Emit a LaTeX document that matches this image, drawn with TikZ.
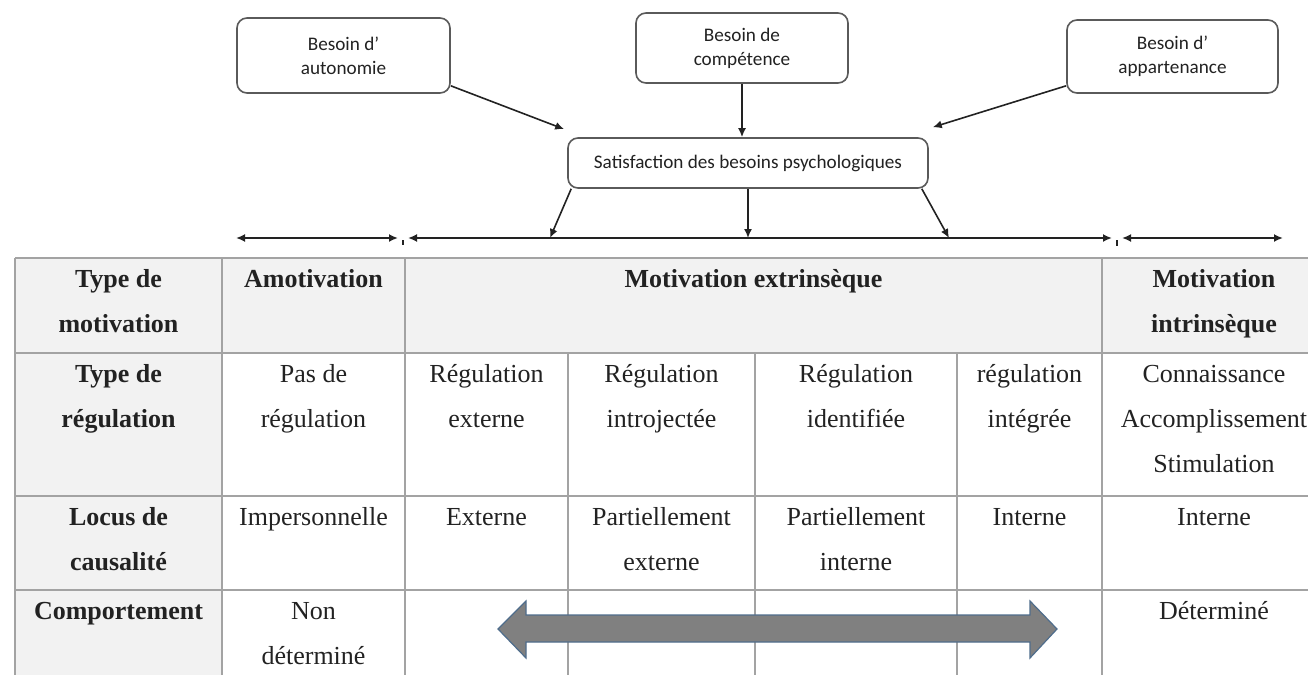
\documentclass[tikz,border=0pt]{standalone}
\usepackage{fontspec}
\setmainfont{Liberation Serif}
\newfontfamily\boxfont{Carlito}
\usetikzlibrary{arrows.meta}
\definecolor{gridgray}{HTML}{A3A3A3}
\definecolor{cellgray}{HTML}{F2F2F2}
\definecolor{boxline}{HTML}{5A5A5A}
\definecolor{ink}{HTML}{222222}
\definecolor{bigfill}{HTML}{808080}
\definecolor{bigedge}{HTML}{4F6D8C}

\begin{document}
\begin{tikzpicture}[x=0.5pt,y=-0.5pt,
  need/.style={draw=boxline, line width=0.8pt, rounded corners=5pt, fill=white,
    font=\boxfont\fontsize{9.6}{12}\selectfont, text=ink, align=center, inner sep=0pt},
  flow/.style={draw=ink, line width=0.8pt, -{Latex[length=4.5pt,width=4pt]}},
  span/.style={draw=ink, line width=1pt, {Latex[length=4.5pt,width=4pt]}-{Latex[length=4.5pt,width=4pt]}},
  cell/.style={anchor=north, inner sep=0pt, align=center,
    font=\fontsize{13}{22.5}\selectfont, text=ink},
  head/.style={cell, font=\bfseries\fontsize{13}{22.5}\selectfont},
  gridline/.style={draw=gridgray, line width=1.1pt}
]
\useasboundingbox (0,0) rectangle (1308,675);
\clip (0,0) rectangle (1308,675);

% --- the three needs and their satisfaction ---
\node[need, minimum width=106.5pt, minimum height=37.5pt] (auto) at (343.5,55.5) {Besoin d’\\autonomie};
\node[need, minimum width=106pt, minimum height=35pt] (comp) at (742,48) {Besoin de\\compétence};
\node[need, minimum width=105.5pt, minimum height=36.5pt] (appa) at (1172.5,56.5) {Besoin d’\\appartenance};
\node[need, minimum width=180pt, minimum height=25pt] (sat) at (748,163) {Satisfaction des besoins psychologiques};

\draw[flow] ([yshift=4pt]auto.south east) -- ([xshift=-1.5pt,yshift=4pt]sat.north west);
\draw[flow] (comp.south) -- (comp.south |- sat.north);
\draw[flow] ([yshift=4pt]appa.south west) -- ([xshift=2pt,yshift=5pt]sat.north east);

% --- continuum above the table ---
\coordinate (a1) at (236,238);
\coordinate (a2) at (398,238);
\coordinate (e1) at (408,238);
\coordinate (e2) at (1112,238);
\coordinate (i1) at (1122,238);
\coordinate (i2) at (1283,238);
\coordinate (dl) at (550,238);
\coordinate (dm) at (748,238);
\coordinate (dr) at (949,238);

\draw[span] (a1) -- (a2);
\draw[span] (e1) -- (e2);
\draw[span] (i1) -- (i2);
\draw[ink, line width=0.6pt] (403,240) -- (403,245);
\draw[ink, line width=0.6pt] (1117,240) -- (1117,246);

\draw[flow] ([xshift=2pt]sat.south west) -- (dl);
\draw[flow] (sat.south) -- (dm);
\draw[flow] ([xshift=-3.5pt]sat.south east) -- (dr);

% --- table ---
\fill[cellgray] (15,258) rectangle (1326,353);
\fill[cellgray] (15,353) rectangle (222,690);
\foreach \y in {258,353,496,590} \draw[gridline] (15,\y) -- (1326,\y);
\foreach \x in {15,222,405,1102,1326} \draw[gridline] (\x,258) -- (\x,690);
\foreach \x in {568,755,957} \draw[gridline] (\x,353) -- (\x,690);

% row 1
\node[head] (r1c1) at (118.5,255.5) {\strut Type de\\motivation};
\node[head] (r1c2) at (313.5,255.5) {\strut Amotivation};
\node[head] (r1c3) at (753.5,255.5) {\strut Motivation extrinsèque};
\node[head] (r1c7) at (1214,255.5) {\strut Motivation\\intrinsèque};
% row 2
\node[head] (r2c1) at (118.5,350.5) {\strut Type de\\régulation};
\node[cell] (r2c2) at (313.5,350.5) {\strut Pas de\\régulation};
\node[cell] (r2c3) at (486.5,350.5) {\strut Régulation\\externe};
\node[cell] (r2c4) at (661.5,350.5) {\strut Régulation\\introjectée};
\node[cell] (r2c5) at (856,350.5) {\strut Régulation\\identifiée};
\node[cell] (r2c6) at (1029.5,350.5) {\strut régulation\\intégrée};
\node[cell] (r2c7) at (1214,350.5) {\strut Connaissance\\Accomplissement\\Stimulation};
% row 3
\node[head] (r3c1) at (118.5,493.5) {\strut Locus de\\causalité};
\node[cell] (r3c2) at (313.5,493.5) {\strut Impersonnelle};
\node[cell] (r3c3) at (486.5,493.5) {\strut Externe};
\node[cell] (r3c4) at (661.5,493.5) {\strut Partiellement\\externe};
\node[cell] (r3c5) at (856,493.5) {\strut Partiellement\\interne};
\node[cell] (r3c6) at (1029.5,493.5) {\strut Interne};
\node[cell] (r3c7) at (1214,493.5) {\strut Interne};
% row 4
\node[head] (r4c1) at (118.5,587.5) {\strut Comportement};
\node[cell] (r4c2) at (313.5,587.5) {\strut Non\\déterminé};
\node[cell] (r4c7) at (1214,587.5) {\strut Déterminé};

% broad two-headed arrow across the extrinsic columns
\path[fill=bigfill, draw=bigedge, line width=0.6pt]
  (498,629) -- (526,601) -- (526,615) -- (1030,615) -- (1030,601) -- (1057,629)
  -- (1030,658) -- (1030,642) -- (526,642) -- (526,658) -- cycle;
\end{tikzpicture}
\end{document}
